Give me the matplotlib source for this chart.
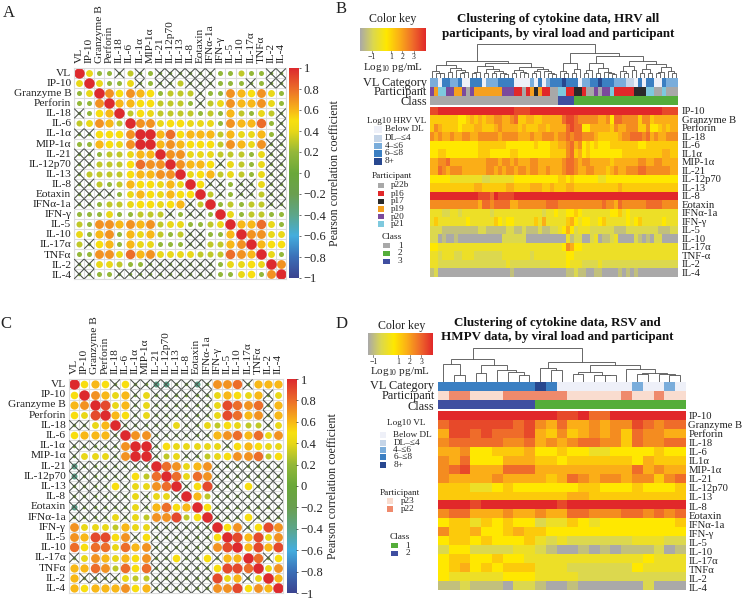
#!/usr/bin/env python3
"""Cytokine correlation matrices (A, C) and clustered heatmaps (B, D)."""
import numpy as np
import matplotlib
matplotlib.use("Agg")
import matplotlib.pyplot as plt
from matplotlib.colors import LinearSegmentedColormap, to_rgb

plt.rcParams["font.family"] = ["Liberation Serif", "DejaVu Serif"]
plt.rcParams["mathtext.fontset"] = "custom"
plt.rcParams["mathtext.rm"] = "Liberation Serif"

W, H = 743, 600

CORR_LABELS = ["VL", "IP-10", "Granzyme B", "Perforin", "IL-18", "IL-6", "IL-1α", "MIP-1α",
               "IL-21", "IL-12p70", "IL-13", "IL-8", "Eotaxin", "IFNα-1a", "IFN-γ", "IL-5",
               "IL-10", "IL-17α", "TNFα", "IL-2", "IL-4"]
CBAR_TICKS = [-1, -0.8, -0.6, -0.4, -0.2, 0, 0.2, 0.4, 0.6, 0.8, 1]

# digit = r*10, T = 1, x = not significant (crossed), n = crossed and negative
CORR_A = ["T422x3x2xxxxxx22322xx",
          "4T4224x2xx3xxx222x2xx",
          "24T757652333x22765742",
          "227T66553332x34766742",
          "x256T354333323263243x",
          "34763T77455444276682x",
          "xx5557TT685666364462x",
          "226547TT67655537647xx",
          "xx233466T7744433324xx",
          "xx3335877T7665x4324xx",
          "x333356677T45634324xx",
          "xx323655464T5xx2xx4xx",
          "xxxx24654655T3x2xx3xx",
          "xx233455456x3T23233xx",
          "222422333x2xx2T423322",
          "327767673442234T66842",
          "42672646323xx226T7744",
          "3x562644222xx3367T655",
          "227748674444333876T42",
          "xx44322xxxxxxx24454T7",
          "xx22xxxxxxxxxx224527T"]

CORR_C = ["T565x5xxnnxxnx778x666",
          "5T7646x4xxxxxx46546x4",
          "67T946x4xxxxxx49878x6",
          "549T65x4xxxxxx49867x6",
          "xx46Txxxxx4xx435433x4",
          "5666xT77xxxxxx6786847",
          "xxxxx7TTx544444x56544",
          "x444x7TTx34xx34577835",
          "nxxxxxxxT87467xxxxxxx",
          "nxxxxx538T8487xxxxxxx",
          "xxxx5x4478Tx59xxx5xxx",
          "xxxxxx4x44xT63xxxxxxx",
          "nxxxxx4x6856T5xxxxxxx",
          "xxxx4x4377935Txxx5xxx",
          "74443644xxxxxxT57x597",
          "769957x5xxxxxx5T96947",
          "85884867xxxxxx79T6969",
          "x4764657xx5xx5x66T8x5",
          "66873858xxxxxx5998T47",
          "6xxxx433xxxxxx946x4T6",
          "65666756xxxxxx779576T"]

HEAT_LABELS_B = ["IP-10", "Granzyme B", "Perforin", "IL-18", "IL-6", "IL1α", "MIP-1α", "IL-21",
                 "IL-12p70", "IL-13", "IL-8", "Eotaxin", "IFNα-1a", "IFN-γ", "IL-5", "IL-10",
                 "IL-17α", "TNF-α", "IL-2", "IL-4"]
HEAT_LABELS_D = ["IP-10", "Granzyme B", "Perforin", "IL-18", "IL-6", "IL1α", "MIP-1α", "IL-21",
                 "IL-12p70", "IL-13", "IL-8", "Eotaxin", "IFNα-1a", "IFN-γ", "IL-5", "IL-10",
                 "IL-17α", "TNFα", "IL-2", "IL-4"]

# digit = position on the key colour ramp (0 grey .. 4 yellow .. T red)
HEAT_B = ["99TTTTTTTT TTTTTTTTTT T9999TTTTT TTTTTTTTTT TTTTTTTTTT TTTTTTTT99 99",
          "5555555445 6565667766 7855665566 6668998777 7766748877 7757756666 66",
          "5765555455 5665556766 6656555665 6666898844 6666657667 7755744565 66",
          "7676676677 6677777677 7766676677 7677878877 7655555677 8887867667 77",
          "4444444444 4455555554 4444445444 5566786745 4544455555 5544555555 55",
          "4455444444 4455544444 5544444444 5555785645 4444444455 5555555566 55",
          "6677866666 6666777677 6766677666 6667887677 6666656666 6677667766 66",
          "6687677766 6666776767 7677677667 6667887667 7666567667 7788777777 66",
          "4444433333 3332233333 3444444444 4455454444 4433444444 4444444444 44",
          "5555555555 5665555556 6555566655 6555665555 5555555655 5555555555 55",
          "TTTTTTTTTT TT9998T999 9TTTTTTTTT TTTTTTTTTT TTTTTTTTTT TTTTTTTTTT TT",
          "7777777777 7768878888 6677777778 8877777777 7778776877 7777888877 77",
          "3332233233 3333323333 3333333323 3433445433 3333344534 3333333333 33",
          "3533333334 3333335434 4333335363 3333564344 3345333334 3453333343 33",
          "2221111111 1122111112 2112111211 2234642333 2222221112 2222222111 22",
          "2201001000 0000000022 2222000000 0000312200 2301123000 0210102200 00",
          "4433333333 3333333333 3333333333 3334764433 3333333333 3333333333 33",
          "3323332233 3222222233 3333323333 3333443333 3333333333 3333333333 33",
          "3322222222 2222222223 2222222222 3333433322 2232222222 2222222222 22",
          "1200000000 0000000000 1000000000 0000112110 0110000101 0100000000 00"]

HEAT_D = ["TTTTTTTTTT T99T88TTTTTTT",
          "8999999897 6866767798788",
          "6998988896 5756767587766",
          "7888887786 7678877587788",
          "6674455564 4544334444544",
          "7684446665 5455555546555",
          "7896668886 6666666686766",
          "7666676666 5687677677578",
          "5553345444 4445544454445",
          "5555555555 5566555555555",
          "TTT9TTTTTT T9TTTTTTTTTTT",
          "7886667667 6688777887878",
          "4553545442 3354344444445",
          "7556445655 4444444444444",
          "4554544453 2322222233322",
          "2442222332 1001010111201",
          "4554454433 3333333334333",
          "4564545553 3322222243333",
          "4333334443 3332222222222",
          "1121110221 0010000002000"]

# VL category 0..4, participant letters, class per column
VL_B = "2203322300 3330222333 3000020302 3334333022 3343332221 103033003222"
PART_B = "voccvvoova vooooooovv vrrarokorr aaccrrkkra avavvcrrrr rkkkccaacaaa"
CLASS_B = "1" * 32 + "3" * 4 + "2" * 26
VL_D = "33333333343 0000000 2 00 2 0"
PART_D = "a bb aaa bbbbbb aaaaa b aa b aa"
CLASS_D = "2" * 9 + "1" * 14

VL_COLORS = ["#eef0f8", "#c5d5e8", "#7aaddb", "#3b7fc2", "#27478f"]
PART_COLORS_B = {"a": "#a8a8a8", "r": "#e1282a", "k": "#2b2b2b", "o": "#f5a01f", "v": "#7b4a9c", "c": "#7ec9de"}
PART_COLORS_D = {"a": "#f9dccf", "b": "#ef8a6c"}
CLASS_COLORS_B = {"1": "#a8a8a8", "2": "#54ad3a", "3": "#3f4ea0"}
CLASS_COLORS_D = {"1": "#54ad3a", "2": "#3f4ea0"}

VL_LEGEND = ["Below DL", "DL–≤4", "4–≤6", "6–≤8", "8+"]
PART_LEGEND_B = [("p22b", "a"), ("p16", "r"), ("p17", "k"), ("p19", "o"), ("p20", "v"), ("p21", "c")]
PART_LEGEND_D = [("p23", "a"), ("p22", "b")]

# dendrograms: (height, left, right), 0 = leaf, height in target pixels
TREE_B = (34,
          (17, (13, (7, 0, (5, 0, (5, 0, 0))), (10, (6, 0, 0), (8, 0, (6, (5, 0, 0), 0)))),
           (15, (12, (6, (5, 0, 0), 0), (9, (5, 0, 0), (7, (5, 0, 0), (5, 0, (4, 0, 0))))),
            (11, (8, (5, 0, 0), (6, 0, (5, 0, 0))), (9, (7, (5, 0, 0), 0), (7, 0, (5, 0, (4, 0, 0))))))),
          (25, (15, (7, 0, (5, 0, 0)), (9, (5, 0, 0), 0)),
           (22, (15, (8, (5, 0, 0), 0), (10, (5, 0, 0), (6, 0, (5, 0, (4, 0, 0))))),
            (17, (12, (7, 0, (5, 0, 0)), (8, 0, 0)),
             (14, (9, (5, 0, 0), (5, 0, 0)), (11, (6, (5, 0, 0), 0), (7, 0, (5, 0, 0))))))))
TREE_D = (34,
          (23, (18, 0, (7, 0, 0)), (17, (9, 0, 0), (12, 0, (10, 0, (7, 0, 0))))),
          (20, (14, 0, (12, 0, 0)),
           (17, (10, (8, 0, 0), (7, 0, (7, 0, 0))), (13, 0, (9, (8, 0, 0), (8, 0, (7, 0, 0)))))))

corr_cmap = LinearSegmentedColormap.from_list("corr", [
    (0.0, "#3c4490"), (0.1, "#3b70b8"), (0.2, "#45aede"), (0.3, "#5da68a"), (0.4, "#6b9f50"),
    (0.5, "#6aa83a"), (0.6, "#94b83a"), (0.7, "#e8d818"), (0.75, "#f8e010"), (0.8, "#f8b818"),
    (0.9, "#ec6e2a"), (1.0, "#dd2a2e")])
key_cmap = LinearSegmentedColormap.from_list("key", [
    (0.0, "#aaa9a9"), (0.2, "#dcd84e"), (0.4, "#ffe800"), (0.6, "#fbae17"), (0.8, "#ef6c2a"), (1.0, "#e1282a")])

fig = plt.figure(figsize=(W / 100, H / 100), dpi=100)
over = fig.add_axes([0, 0, 1, 1], zorder=5)
over.set_xlim(0, W); over.set_ylim(H, 0); over.axis("off")


def axpx(x0, y0, x1, y1):
    return fig.add_axes([x0 / W, 1 - y1 / H, (x1 - x0) / W, (y1 - y0) / H])


def txt(x, y, s, size=8.5, ha="left", **kw):
    over.text(x, y, s, fontsize=size, ha=ha, va="center", color="#222222", **kw)


def code_val(c):
    return 1.0 if c == "T" else int(c) / 10


def corr_panel(rows, box, cbar, lab_x, lab_y, cb_lab_xy):
    x0, y0, x1, y1 = box
    n = len(CORR_LABELS)
    ax = axpx(x0, y0, x1, y1)
    ax.set_xlim(-0.5, n - 0.5); ax.set_ylim(n - 0.5, -0.5)
    ax.set_xticks(np.arange(n + 1) - 0.5); ax.set_yticks(np.arange(n + 1) - 0.5)
    ax.grid(color="#dcdcdc", linewidth=0.8); ax.set_axisbelow(True)
    ax.tick_params(length=0, labelbottom=False, labelleft=False)
    for s in ax.spines.values():
        s.set_color("#dcdcdc"); s.set_linewidth(0.8)
    for i, row in enumerate(rows):
        for j, c in enumerate(row):
            if c == "x":
                r, d = 0.12, 3.5
            elif c == "n":
                r, d = -0.4, 6.0
            else:
                r = code_val(c)
                d = 10.4 * abs(r) ** 0.45
            ax.scatter(j, i, s=(d * 0.72) ** 2, color=corr_cmap((r + 1) / 2), linewidths=0, zorder=2)
            if c in "xn":
                ax.plot([j - 0.45, j + 0.45], [i - 0.45, i + 0.45], color="#4a504a", lw=0.75, zorder=3)
                ax.plot([j - 0.45, j + 0.45], [i + 0.45, i - 0.45], color="#4a504a", lw=0.75, zorder=3)
    cell = (x1 - x0) / n
    for i, lab in enumerate(CORR_LABELS):
        txt(lab_x, y0 + (i + 0.5) * cell, lab, size=8.2, ha="right")
        over.text(x0 + (i + 0.5) * cell, lab_y, lab, fontsize=8.2, rotation=90, ha="center", va="bottom",
                  color="#222222")
    cax = axpx(*cbar)
    cax.imshow(np.linspace(1, -1, 256)[:, None], cmap=corr_cmap, vmin=-1, vmax=1, aspect="auto", extent=[0, 1, -1, 1])
    cax.set_xticks([]); cax.yaxis.tick_right()
    cax.set_yticks(CBAR_TICKS)
    cax.set_yticklabels([f"{t:g}".replace("-", "−") for t in CBAR_TICKS], fontsize=9, color="#222222")
    cax.tick_params(length=1.5, width=0.5, pad=2, color="#333333")
    for s in cax.spines.values():
        s.set_visible(False)
    txt(cb_lab_xy[0], cb_lab_xy[1], "Pearson correlation coefficient", size=8.6, ha="center", rotation=90)


def tree_lines(ax, node, next_leaf):
    # returns x position of this node, leaves numbered left to right
    if node == 0:
        x = next_leaf[0]
        next_leaf[0] += 1
        return x, 0
    h, left, right = node
    xl, hl = tree_lines(ax, left, next_leaf)
    xr, hr = tree_lines(ax, right, next_leaf)
    ax.plot([xl, xl, xr, xr], [hl, h, h, hr], color="#5c5c5c", lw=0.65, solid_joinstyle="miter")
    return (xl + xr) / 2, h


def strip(ax, colors):
    ax.imshow([[to_rgb(c) for c in colors]], aspect="auto", interpolation="nearest")
    ax.axis("off")


def heat_panel(rows, labels, heat_box, row_y, lab_x, strips, strip_labels, tree, tree_box):
    x0, y0, x1, y1 = heat_box
    data = np.array([[code_val(c) for c in r.replace(" ", "")] for r in rows])
    ax = axpx(x0, y0, x1, y1)
    ax.imshow(data, cmap=key_cmap, vmin=0, vmax=1, aspect="auto", interpolation="nearest")
    ax.axis("off")
    for lab, y in zip(labels, np.linspace(row_y[0], row_y[1], len(labels))):
        txt(lab_x, y, lab, size=7.7)
    for (box, colors), (lab, y) in zip(strips, strip_labels):
        strip(axpx(*box), colors)
        txt(x0 - 3.5, y, lab, size=8.8, ha="right")
    tax = axpx(*tree_box)
    tree_lines(tax, tree, [0])
    tax.set_xlim(-0.5, data.shape[1] - 0.5); tax.set_ylim(0, tree_box[3] - tree_box[1])
    tax.axis("off")


def color_key(box, tick_x, title_xy, tick_y, lab_y):
    x0, y0, x1, y1 = box
    ax = axpx(x0, y0, x1, y1)
    ax.imshow(np.linspace(0, 1, 256)[None, :], cmap=key_cmap, aspect="auto")
    ax.axis("off")
    txt(title_xy[0], title_xy[1], "Color key", size=8.6, ha="center")
    for lab, x in zip(["−1", "1", "2", "3"], tick_x):
        over.plot([x, x], [y1, y1 + 2], color="#555555", lw=0.5)
        txt(x, tick_y, lab, size=5.6, ha="center")
    txt((x0 + x1) / 2, lab_y, r"Log$_{10}$ pg/mL", size=8.0, ha="center")


def legend(title, title_xy, patch_x, patch_h, ys, text_x, items, size=6.7):
    txt(title_xy[0], title_xy[1], title, size=size, ha="center")
    for (lab, col), y in zip(items, ys):
        over.fill_between(patch_x, y - patch_h / 2, y + patch_h / 2, color=col, linewidth=0)
        txt(text_x, y, lab, size=size)


# panels A and C
corr_panel(CORR_A, (74, 68.3, 286, 279), (289, 68, 298.7, 278), 71.3, 62.7, (335, 173))
corr_panel(CORR_C, (69, 379.3, 283.3, 593.3), (286.7, 379, 296, 593), 66, 374, (333, 486))

# panel B
heat_panel(HEAT_B, HEAT_LABELS_B, (430.3, 107.3, 678.3, 277.3), (111.7, 273), 681.7,
           [((430.3, 77.7, 678.3, 87), [VL_COLORS[int(c)] for c in VL_B.replace(" ", "")]),
            ((430.3, 87, 678.3, 96.3), [PART_COLORS_B[c] for c in PART_B.replace(" ", "")]),
            ((430.3, 96.3, 678.3, 105.3), [CLASS_COLORS_B[c] for c in CLASS_B])],
           [("VL Category", 83.3), ("Participant", 92.3), ("Class", 102.3)],
           TREE_B, (430.3, 43, 678.3, 77.7))
color_key((360, 28.3, 425, 50.7), [371.7, 391, 402.3, 414], (393, 19), 57, 67.5)
over.text(558, 19.3, "Clustering of cytokine data, HRV all", fontsize=9.4, weight="bold", ha="center", va="center", color="#111111")
over.text(558, 34.3, "participants, by viral load and participant", fontsize=9.4, weight="bold", ha="center", va="center", color="#111111")
legend("Log10 HRV VL", (396.5, 120.7), [374, 381.7], 6.5, [129.3, 138.3, 146, 153.3, 161.3], 385,
       list(zip(VL_LEGEND, VL_COLORS)))
legend("Participant", (392, 175.7), [378, 384], 5.5, [185.3, 193.7, 201.3, 209, 216.7, 224], 390.7,
       [(lab, PART_COLORS_B[k]) for lab, k in PART_LEGEND_B])
legend("Class", (391.8, 237), [383.3, 390], 5.5, [245.7, 253.3, 261.3], 398,
       [(k, CLASS_COLORS_B[k]) for k in "123"])

# panel D
heat_panel(HEAT_D, HEAT_LABELS_D, (438, 411, 685.5, 590), (416.7, 588.3), 688.5,
           [((438, 381.7, 685.5, 390.7), [VL_COLORS[int(c)] for c in VL_D.replace(" ", "")]),
            ((438, 391, 685.5, 400), [PART_COLORS_D[c] for c in PART_D.replace(" ", "")]),
            ((438, 400, 685.5, 409.5), [CLASS_COLORS_D[c] for c in CLASS_D])],
           [("VL Category", 385.7), ("Participant", 396), ("Class", 406.7)],
           TREE_D, (438, 347, 685.5, 381.7))
color_key((368, 333.3, 432.7, 355), [373.3, 398.3, 410, 421.3], (401.7, 325.7), 362, 371.5)
over.text(557, 322.7, "Clustering of cytokine data, RSV and", fontsize=9.4, weight="bold", ha="center", va="center", color="#111111")
over.text(557, 337.3, "HMPV data, by viral load and participant", fontsize=9.4, weight="bold", ha="center", va="center", color="#111111")
legend("Log10 VL", (405.8, 423.3), [380, 385.7], 6, [435, 442.7, 450, 457.3, 465.3], 393.3,
       list(zip(VL_LEGEND, VL_COLORS)))
legend("Participant", (399.7, 492.7), [386.7, 392.7], 6, [501.3, 509.3], 401,
       [(lab, PART_COLORS_D[k]) for lab, k in PART_LEGEND_D])
legend("Class", (399.5, 537.3), [391, 397.7], 5.5, [545.7, 553.3], 405.7,
       [(k, CLASS_COLORS_D[k]) for k in "12"])

for lab, x, y in [("A", 3, 13), ("B", 336, 9), ("C", 0, 324), ("D", 336, 324)]:
    txt(x, y, lab, size=12)

over.set_xlim(0, W); over.set_ylim(H, 0)
fig.savefig("out.png", dpi=100)
